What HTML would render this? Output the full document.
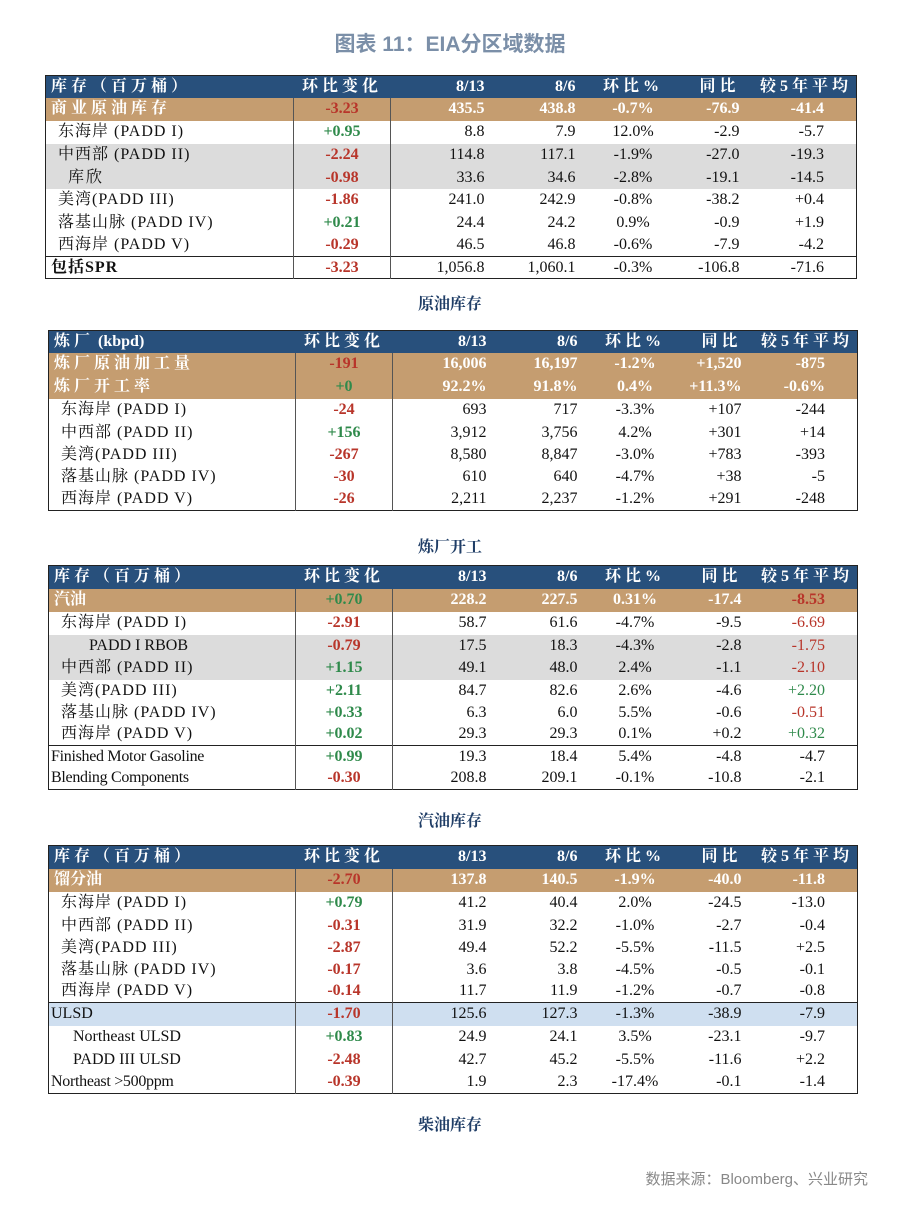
<!DOCTYPE html>
<html><head><meta charset="utf-8"><style>
body{margin:0;width:900px;height:1219px;background:#fff;position:relative;font-family:"Liberation Serif","Noto Serif CJK SC",serif;overflow:hidden}
.t{position:absolute;border-collapse:collapse;table-layout:fixed;border:1.5px solid #222;font-size:16px;color:#111}
.t td{padding:0 5px;white-space:nowrap;overflow:hidden;line-height:1}
.t tr.h td{background:#28507c;color:#fff;font-weight:bold}
.t tr.o td{background:#c59d70;color:#fff;font-weight:bold}
.t tr.g td{background:#dcdcdc}
.t tr.b td{background:#cfdff0}
.t tr.top td{border-top:1.5px solid #222}
.sp{letter-spacing:4px}
.t td:nth-child(2){border-left:1.5px solid #555;border-right:1.5px solid #555;text-align:center;font-weight:bold}
.t tr.h td:nth-child(2){border:none}
.t td:nth-child(3),.t td:nth-child(4){text-align:right}
.t td:nth-child(3){padding-right:6px}.t td:nth-child(4){padding-right:10px}
.t td:nth-child(5){text-align:center}
.t td:nth-child(6){text-align:right;padding-right:6px}
.t td:nth-child(7){text-align:right;padding-right:32px}
.t tr.h td:nth-child(7){padding-right:4px}
.rd{color:#b8352a!important}.gr{color:#2f8a4b!important}
.cap{position:absolute;left:0;width:900px;text-align:center;font-weight:bold;font-size:16px;color:#1f3d66}
.i1{padding-left:12px!important;letter-spacing:1px}.i2{padding-left:22px!important;letter-spacing:2px}.i3{padding-left:40px!important}
</style></head><body>
<div style="position:absolute;top:28px;width:900px;text-align:center;font-family:'Liberation Sans','Noto Sans CJK SC',sans-serif;font-size:21px;color:#7b8fa8;font-weight:bold">图表 11：EIA分区域数据</div>

<table class="t" style="left:45px;top:75px;width:811px">
<colgroup><col style="width:248px"><col style="width:97px"><col style="width:100px"><col style="width:95px"><col style="width:95px"><col style="width:65px"><col style="width:111px"></colgroup>
<tr class="h" style="height:22px"><td class="sp">库存（百万桶）</td><td class="sp">环比变化</td><td>8/13</td><td>8/6</td><td class="sp">环比%</td><td class="sp">同比</td><td class="sp">较5年平均</td></tr>
<tr class="o" style="height:23px"><td class="sp">商业原油库存</td><td class="rd">-3.23</td><td>435.5</td><td>438.8</td><td>-0.7%</td><td>-76.9</td><td>-41.4</td></tr>
<tr style="height:23px"><td class="i1">东海岸 (PADD I)</td><td class="gr">+0.95</td><td>8.8</td><td>7.9</td><td>12.0%</td><td>-2.9</td><td>-5.7</td></tr>
<tr class="g" style="height:23px"><td class="i1">中西部 (PADD II)</td><td class="rd">-2.24</td><td>114.8</td><td>117.1</td><td>-1.9%</td><td>-27.0</td><td>-19.3</td></tr>
<tr class="g" style="height:22px"><td class="i2">库欣</td><td class="rd">-0.98</td><td>33.6</td><td>34.6</td><td>-2.8%</td><td>-19.1</td><td>-14.5</td></tr>
<tr style="height:23px"><td class="i1">美湾(PADD III)</td><td class="rd">-1.86</td><td>241.0</td><td>242.9</td><td>-0.8%</td><td>-38.2</td><td>+0.4</td></tr>
<tr style="height:22px"><td class="i1">落基山脉 (PADD IV)</td><td class="gr">+0.21</td><td>24.4</td><td>24.2</td><td>0.9%</td><td>-0.9</td><td>+1.9</td></tr>
<tr style="height:23px"><td class="i1">西海岸 (PADD V)</td><td class="rd">-0.29</td><td>46.5</td><td>46.8</td><td>-0.6%</td><td>-7.9</td><td>-4.2</td></tr>
<tr class="top" style="height:22px"><td style="font-weight:bold;letter-spacing:1px">包括SPR</td><td class="rd">-3.23</td><td>1,056.8</td><td>1,060.1</td><td>-0.3%</td><td>-106.8</td><td>-71.6</td></tr>
</table>
<div class="cap" style="top:291px">原油库存</div>

<table class="t" style="left:48px;top:330px;width:809px">
<colgroup><col style="width:247px"><col style="width:97px"><col style="width:100px"><col style="width:95px"><col style="width:95px"><col style="width:65px"><col style="width:110px"></colgroup>
<tr class="h" style="height:22px"><td><span class="sp">炼厂</span> (kbpd)</td><td class="sp">环比变化</td><td>8/13</td><td>8/6</td><td class="sp">环比%</td><td class="sp">同比</td><td class="sp">较5年平均</td></tr>
<tr class="o" style="height:23px"><td class="sp">炼厂原油加工量</td><td class="rd">-191</td><td>16,006</td><td>16,197</td><td>-1.2%</td><td>+1,520</td><td>-875</td></tr>
<tr class="o" style="height:23px"><td class="sp">炼厂开工率</td><td class="gr">+0</td><td>92.2%</td><td>91.8%</td><td>0.4%</td><td>+11.3%</td><td>-0.6%</td></tr>
<tr style="height:23px"><td class="i1">东海岸 (PADD I)</td><td class="rd">-24</td><td>693</td><td>717</td><td>-3.3%</td><td>+107</td><td>-244</td></tr>
<tr style="height:22px"><td class="i1">中西部 (PADD II)</td><td class="gr">+156</td><td>3,912</td><td>3,756</td><td>4.2%</td><td>+301</td><td>+14</td></tr>
<tr style="height:22px"><td class="i1">美湾(PADD III)</td><td class="rd">-267</td><td>8,580</td><td>8,847</td><td>-3.0%</td><td>+783</td><td>-393</td></tr>
<tr style="height:23px"><td class="i1">落基山脉 (PADD IV)</td><td class="rd">-30</td><td>610</td><td>640</td><td>-4.7%</td><td>+38</td><td>-5</td></tr>
<tr style="height:22px"><td class="i1">西海岸 (PADD V)</td><td class="rd">-26</td><td>2,211</td><td>2,237</td><td>-1.2%</td><td>+291</td><td>-248</td></tr>
</table>
<div class="cap" style="top:534px">炼厂开工</div>

<table class="t" style="left:48px;top:565px;width:809px">
<colgroup><col style="width:247px"><col style="width:97px"><col style="width:100px"><col style="width:95px"><col style="width:95px"><col style="width:65px"><col style="width:110px"></colgroup>
<tr class="h" style="height:23px"><td class="sp">库存（百万桶）</td><td class="sp">环比变化</td><td>8/13</td><td>8/6</td><td class="sp">环比%</td><td class="sp">同比</td><td class="sp">较5年平均</td></tr>
<tr class="o" style="height:23px"><td>汽油</td><td class="gr">+0.70</td><td>228.2</td><td>227.5</td><td>0.31%</td><td>-17.4</td><td class="rd">-8.53</td></tr>
<tr style="height:23px"><td class="i1">东海岸 (PADD I)</td><td class="rd">-2.91</td><td>58.7</td><td>61.6</td><td>-4.7%</td><td>-9.5</td><td class="rd">-6.69</td></tr>
<tr class="g" style="height:22px"><td class="i3">PADD I RBOB</td><td class="rd">-0.79</td><td>17.5</td><td>18.3</td><td>-4.3%</td><td>-2.8</td><td class="rd">-1.75</td></tr>
<tr class="g" style="height:23px"><td class="i1">中西部 (PADD II)</td><td class="gr">+1.15</td><td>49.1</td><td>48.0</td><td>2.4%</td><td>-1.1</td><td class="rd">-2.10</td></tr>
<tr style="height:22px"><td class="i1">美湾(PADD III)</td><td class="gr">+2.11</td><td>84.7</td><td>82.6</td><td>2.6%</td><td>-4.6</td><td class="gr">+2.20</td></tr>
<tr style="height:22px"><td class="i1">落基山脉 (PADD IV)</td><td class="gr">+0.33</td><td>6.3</td><td>6.0</td><td>5.5%</td><td>-0.6</td><td class="rd">-0.51</td></tr>
<tr style="height:22px"><td class="i1">西海岸 (PADD V)</td><td class="gr">+0.02</td><td>29.3</td><td>29.3</td><td>0.1%</td><td>+0.2</td><td class="gr">+0.32</td></tr>
<tr class="top" style="height:22px"><td style="padding-left:2px;letter-spacing:-0.3px">Finished Motor Gasoline</td><td class="gr">+0.99</td><td>19.3</td><td>18.4</td><td>5.4%</td><td>-4.8</td><td>-4.7</td></tr>
<tr style="height:22px"><td style="padding-left:2px;letter-spacing:-0.3px">Blending Components</td><td class="rd">-0.30</td><td>208.8</td><td>209.1</td><td>-0.1%</td><td>-10.8</td><td>-2.1</td></tr>
</table>
<div class="cap" style="top:808px">汽油库存</div>

<table class="t" style="left:48px;top:845px;width:809px">
<colgroup><col style="width:247px"><col style="width:97px"><col style="width:100px"><col style="width:95px"><col style="width:95px"><col style="width:65px"><col style="width:110px"></colgroup>
<tr class="h" style="height:23px"><td class="sp">库存（百万桶）</td><td class="sp">环比变化</td><td>8/13</td><td>8/6</td><td class="sp">环比%</td><td class="sp">同比</td><td class="sp">较5年平均</td></tr>
<tr class="o" style="height:23px"><td>馏分油</td><td class="rd">-2.70</td><td>137.8</td><td>140.5</td><td>-1.9%</td><td>-40.0</td><td>-11.8</td></tr>
<tr style="height:23px"><td class="i1">东海岸 (PADD I)</td><td class="gr">+0.79</td><td>41.2</td><td>40.4</td><td>2.0%</td><td>-24.5</td><td>-13.0</td></tr>
<tr style="height:22px"><td class="i1">中西部 (PADD II)</td><td class="rd">-0.31</td><td>31.9</td><td>32.2</td><td>-1.0%</td><td>-2.7</td><td>-0.4</td></tr>
<tr style="height:22px"><td class="i1">美湾(PADD III)</td><td class="rd">-2.87</td><td>49.4</td><td>52.2</td><td>-5.5%</td><td>-11.5</td><td>+2.5</td></tr>
<tr style="height:22px"><td class="i1">落基山脉 (PADD IV)</td><td class="rd">-0.17</td><td>3.6</td><td>3.8</td><td>-4.5%</td><td>-0.5</td><td>-0.1</td></tr>
<tr style="height:22px"><td class="i1">西海岸 (PADD V)</td><td class="rd">-0.14</td><td>11.7</td><td>11.9</td><td>-1.2%</td><td>-0.7</td><td>-0.8</td></tr>
<tr class="b top" style="height:23px"><td style="padding-left:2px">ULSD</td><td class="rd">-1.70</td><td>125.6</td><td>127.3</td><td>-1.3%</td><td>-38.9</td><td>-7.9</td></tr>
<tr style="height:23px"><td style="padding-left:24px">Northeast ULSD</td><td class="gr">+0.83</td><td>24.9</td><td>24.1</td><td>3.5%</td><td>-23.1</td><td>-9.7</td></tr>
<tr style="height:22px"><td style="padding-left:24px">PADD III ULSD</td><td class="rd">-2.48</td><td>42.7</td><td>45.2</td><td>-5.5%</td><td>-11.6</td><td>+2.2</td></tr>
<tr style="height:23px"><td style="padding-left:2px;letter-spacing:-0.3px">Northeast &gt;500ppm</td><td class="rd">-0.39</td><td>1.9</td><td>2.3</td><td>-17.4%</td><td>-0.1</td><td>-1.4</td></tr>
</table>
<div class="cap" style="top:1112px">柴油库存</div>

<div style="position:absolute;right:32px;top:1168px;font-family:'Liberation Sans','Noto Sans CJK SC',sans-serif;font-size:15px;color:#888">数据来源：Bloomberg、兴业研究</div>
</body></html>
